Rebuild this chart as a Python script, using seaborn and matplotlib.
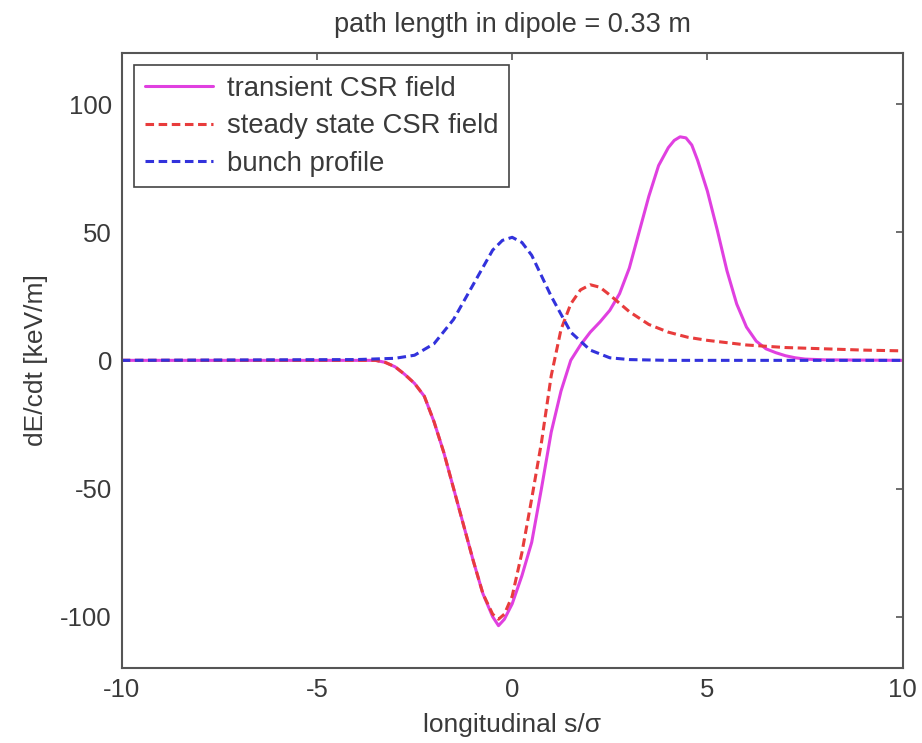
import pandas as pd
import numpy as np
import seaborn as sns
import matplotlib.pyplot as plt

# values
s_transient = [-10, -3.5, -3.25, -3, -2.75, -2.5, -2.25, -2, -1.75, -1.5, -1.25, -1, -0.75,
               -0.5, -0.35, -0.2, 0, 0.25, 0.5, 0.75, 1, 1.25, 1.5, 1.75, 2, 2.25, 2.5, 2.75,
               3, 3.25, 3.5, 3.75, 4, 4.15, 4.3, 4.45, 4.6, 4.75, 5, 5.25, 5.5, 5.75, 6, 6.25,
               6.5, 6.75, 7, 7.25, 7.5, 8, 10]
transient = [0, 0, -0.8, -2.5, -5.5, -9, -14, -24, -36, -50, -64, -78, -91,
             -100, -103.5, -101, -95, -84, -71, -50, -28, -12, 0, 6, 11, 15, 19.5, 26,
             36, 50, 64, 76, 83, 85.8, 87.2, 86.8, 84, 78, 66, 51, 35, 22, 13, 7.5,
             4.5, 3, 1.8, 1, 0.5, 0.2, 0]

s_steady = [-10, -3.5, -3.25, -3, -2.75, -2.5, -2.25, -2, -1.75, -1.5, -1.25, -1, -0.75,
            -0.5, -0.35, -0.2, 0, 0.25, 0.5, 0.75, 1, 1.25, 1.5, 1.75, 2, 2.25, 2.5, 3,
            3.5, 4, 4.5, 5, 6, 7, 8, 9, 10]
steady = [0, 0, -0.8, -2.5, -5.5, -9, -14, -24, -36, -50, -64, -78, -91,
          -99, -101, -99, -92, -75, -54, -32, -6, 12, 22, 27.5, 29.5, 28.5, 25.5, 19,
          14, 11, 9, 7.8, 6, 5, 4.5, 4, 3.7]

s_bunch = [-10, -4, -3, -2.5, -2, -1.5, -1, -0.5, -0.25, 0, 0.25, 0.5, 1, 1.5, 2, 2.5, 3, 4, 10]
bunch = [0, 0.3, 0.8, 2, 6.5, 16, 29.5, 43, 46.8, 48, 46, 41, 25, 11, 4, 1, 0.3, 0, 0]


def plot():
    sns.set_theme(style="white")
    plt.rcParams["font.family"] = ["Liberation Sans", "DejaVu Sans"]
    plt.rcParams["axes.unicode_minus"] = False
    text_color = "#3a3a3a"

    fig, ax = plt.subplots(figsize=(9.22, 7.43), dpi=100)
    fig.subplots_adjust(left=0.132, right=0.979, top=0.929, bottom=0.101)

    sns.lineplot(ax=ax, x=s_transient, y=transient, color="#e040e0", linewidth=2.2,
                 label="transient CSR field")
    sns.lineplot(ax=ax, x=s_steady, y=steady, color="#e83c3c", linewidth=2.2,
                 linestyle=(0, (2.8, 1.5)), label="steady state CSR field")
    sns.lineplot(ax=ax, x=s_bunch, y=bunch, color="#3232dc", linewidth=2.2,
                 linestyle=(0, (2.8, 1.5)), label="bunch profile")

    ax.set_xlim(-10, 10)
    ax.set_ylim(-120, 120)
    ax.set_xticks([-10, -5, 0, 5, 10])
    ax.set_yticks([-100, -50, 0, 50, 100])
    ax.tick_params(direction="in", length=5, width=1.2, color="#555555",
                   top=True, right=True, labelsize=18.5, labelcolor=text_color, pad=7)
    for sp in ax.spines.values():
        sp.set_color("#555555")
        sp.set_linewidth(1.5)

    ax.set_xlabel("longitudinal s/\u03c3", fontsize=19, color=text_color, labelpad=8)
    ax.set_ylabel("dE/cdt [keV/m]", fontsize=19, color=text_color, labelpad=9)
    ax.set_title("path length in dipole = 0.33 m", fontsize=19.5, color=text_color, pad=15)

    leg = ax.legend(loc="upper left", fontsize=19.8, handlelength=2.5, handletextpad=0.5,
                    borderaxespad=0.45, labelspacing=0.42, fancybox=False, framealpha=1,
                    borderpad=0.38)
    leg.get_frame().set_edgecolor("#444444")
    leg.get_frame().set_linewidth(1.2)
    for t in leg.get_texts():
        t.set_color(text_color)

    plt.savefig("out.png", dpi=100)


if __name__ == '__main__':
    plot()
